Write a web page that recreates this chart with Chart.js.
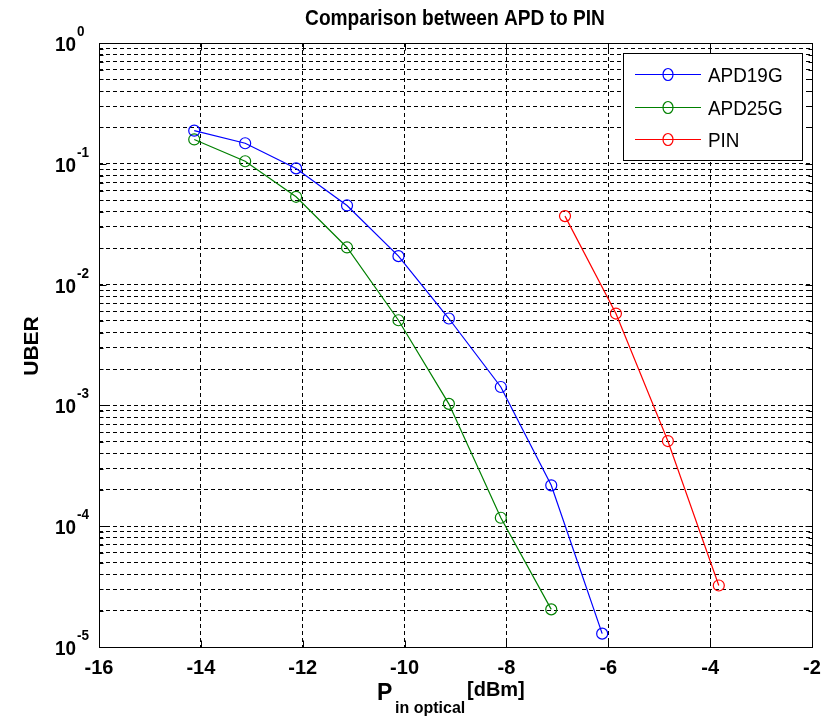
<!DOCTYPE html>
<html>
<head>
<meta charset="utf-8">
<script src="https://cdn.jsdelivr.net/npm/chart.js@4.4.1/dist/chart.umd.min.js"></script>
<style>
  body { margin: 0; background: #fff; }
  canvas { display: block; }
</style>
</head>
<body>
<canvas id="berChart" width="830" height="718"></canvas>
<script>
// values
const apd19X = [-14.13, -13.13, -12.13, -11.13, -10.12, -9.13, -8.11, -7.12, -6.12];
const apd19Y = [0.188, 0.148, 0.0916, 0.0452, 0.0172, 0.00524, 0.00142, 0.000218, 0.0000129];
const apd25X = [-14.13, -13.13, -12.13, -11.13, -10.12, -9.13, -8.11, -7.12];
const apd25Y = [0.159, 0.105, 0.0533, 0.0203, 0.00507, 0.00103, 0.0001175, 0.0000205];
const pinX = [-6.85, -5.85, -4.83, -3.83];
const pinY = [0.0369, 0.00576, 0.000507, 0.0000323];

const seriesNames = ["APD19G", "APD25G", "PIN"];
const seriesColors = ["#0000ff", "#008000", "#ff0000"];

const xTicks = [-16, -14, -12, -10, -8, -6, -4, -2];
const yExponents = [-5, -4, -3, -2, -1, 0];
const yMinorSteps = [2, 3, 4, 5, 6, 7, 8, 9];

const FONT = '"Liberation Sans", Arial, sans-serif';

function toPoints(xs, ys) {
  return xs.map(function (x, i) { return { x: x, y: ys[i] }; });
}

// all grid values for the log axis: decades plus 2..9 in between
var yGrid = [];
yExponents.forEach(function (e) {
  var d = Math.pow(10, e);
  yGrid.push(d);
  if (e < 0) {
    yMinorSteps.forEach(function (m) { yGrid.push(m * d); });
  }
});

function drawText(ctx, text, x, y, font, align, sx) {
  ctx.save();
  ctx.font = font;
  ctx.textAlign = align;
  ctx.translate(x, y);
  ctx.scale(sx || 1, 1);
  ctx.fillText(text, 0, 0);
  ctx.restore();
}

var matlabLook = {
  id: 'matlabLook',
  beforeDraw: function (chart) {
    var ctx = chart.ctx;
    ctx.save();
    ctx.fillStyle = '#fff';
    ctx.fillRect(0, 0, chart.width, chart.height);
    ctx.restore();
  },
  afterDraw: function (chart) {
    var ctx = chart.ctx;
    var area = chart.chartArea;
    var xs = chart.scales.x, ys = chart.scales.y;
    var L = Math.round(area.left) + 0.5, R = Math.round(area.right) + 0.5;
    var T = Math.round(area.top) + 0.5, B = Math.round(area.bottom) + 0.5;

    ctx.save();
    ctx.strokeStyle = '#000';
    ctx.lineWidth = 1;
    ctx.setLineDash([]);

    // inner tick marks
    ctx.beginPath();
    xTicks.forEach(function (v) {
      var px = Math.round(xs.getPixelForValue(v)) + 0.5;
      ctx.moveTo(px, B); ctx.lineTo(px, B - 7);
      ctx.moveTo(px, T); ctx.lineTo(px, T + 7);
    });
    yGrid.forEach(function (v) {
      var py = Math.round(ys.getPixelForValue(v)) + 0.5;
      var len = Math.abs(Math.log10(v) - Math.round(Math.log10(v))) < 1e-9 ? 7 : 4;
      ctx.moveTo(L, py); ctx.lineTo(L + len, py);
      ctx.moveTo(R, py); ctx.lineTo(R - len, py);
    });
    ctx.stroke();

    // frame
    ctx.strokeRect(L, T, R - L, B - T);

    ctx.fillStyle = '#000';
    ctx.textBaseline = 'alphabetic';

    // title
    drawText(ctx, 'Comparison between APD to PIN', 455, 25, 'bold 22px ' + FONT, 'center', 0.87);

    // x tick labels
    xTicks.forEach(function (v) {
      drawText(ctx, String(v), xs.getPixelForValue(v), 674, 'bold 20px ' + FONT, 'center', 1);
    });

    // y tick labels 10^n
    yExponents.forEach(function (e) {
      var py = ys.getPixelForValue(Math.pow(10, e));
      drawText(ctx, '10', 76, py + 8, 'bold 21px ' + FONT, 'right', 0.9);
      drawText(ctx, String(e), 77, py - 7, 'bold 15px ' + FONT, 'left', 0.9);
    });

    // y axis title
    ctx.save();
    ctx.translate(38, 346);
    ctx.rotate(-Math.PI / 2);
    drawText(ctx, 'UBER', 0, 0, 'bold 21px ' + FONT, 'center', 1);
    ctx.restore();

    // x axis title with subscript
    drawText(ctx, 'P', 377, 700, 'bold 23px ' + FONT, 'left', 1);
    drawText(ctx, 'in optical', 395, 713, 'bold 16px ' + FONT, 'left', 1);
    drawText(ctx, '[dBm]', 467, 696, 'bold 20px ' + FONT, 'left', 1);

    // legend
    var bx = 623.5, by = 53.5, bw = 179, bh = 107;
    ctx.fillStyle = '#fff';
    ctx.fillRect(bx, by, bw, bh);
    ctx.strokeRect(bx, by, bw, bh);
    var rows = [74, 107, 139];
    seriesNames.forEach(function (name, i) {
      var yy = rows[i] + 0.5;
      ctx.strokeStyle = seriesColors[i];
      ctx.lineWidth = 1.2;
      ctx.beginPath();
      ctx.moveTo(635, yy); ctx.lineTo(701, yy);
      ctx.stroke();
      ctx.beginPath();
      ctx.ellipse(668, yy, 5, 6, 0, 0, Math.PI * 2);
      ctx.stroke();
      ctx.fillStyle = '#000';
      drawText(ctx, name, 708, rows[i] + 8, '21px ' + FONT, 'left', 0.9);
    });
    ctx.restore();
  }
};

function lineSet(label, pts, color) {
  return {
    label: label,
    data: pts,
    borderColor: color,
    borderWidth: 1.2,
    pointStyle: 'circle',
    pointRadius: 5.5,
    pointBorderWidth: 1.2,
    pointBorderColor: color,
    pointBackgroundColor: 'rgba(0,0,0,0)',
    fill: false,
    tension: 0
  };
}

new Chart(document.getElementById('berChart'), {
  type: 'line',
  data: {
    datasets: [
      lineSet(seriesNames[0], toPoints(apd19X, apd19Y), seriesColors[0]),
      lineSet(seriesNames[1], toPoints(apd25X, apd25Y), seriesColors[1]),
      lineSet(seriesNames[2], toPoints(pinX, pinY), seriesColors[2])
    ]
  },
  options: {
    responsive: false,
    animation: false,
    layout: { padding: { left: 99, right: 18, top: 43, bottom: 71 } },
    plugins: {
      legend: { display: false },
      title: { display: false },
      tooltip: { enabled: false }
    },
    scales: {
      x: {
        type: 'linear',
        min: -16,
        max: -2,
        afterBuildTicks: function (scale) {
          scale.ticks = xTicks.map(function (v) { return { value: v }; });
        },
        ticks: { display: false },
        grid: { color: '#000', lineWidth: 1, drawTicks: false },
        border: { display: false, dash: [4, 3] }
      },
      y: {
        type: 'logarithmic',
        min: 1e-5,
        max: 1,
        afterBuildTicks: function (scale) {
          scale.ticks = yGrid.map(function (v) { return { value: v }; });
        },
        ticks: { display: false },
        grid: { color: '#000', lineWidth: 1, drawTicks: false },
        border: { display: false, dash: [4, 3] }
      }
    }
  },
  plugins: [matlabLook]
});
</script>
</body>
</html>
